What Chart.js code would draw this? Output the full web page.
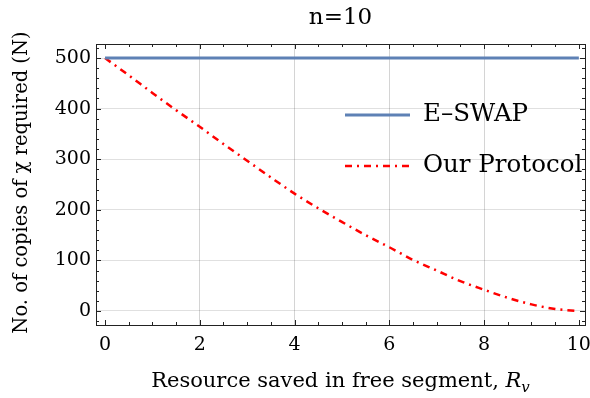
<!DOCTYPE html>
<html>
<head>
<meta charset="utf-8">
<script src="https://cdn.jsdelivr.net/npm/chart.js@4.4.1/dist/chart.umd.min.js"></script>
<style>
  html, body { margin: 0; padding: 0; background: #fff; }
  #wrap { width: 590px; height: 398px; }
</style>
</head>
<body>
<div id="wrap"><canvas id="chart" width="590" height="398"></canvas></div>
<script>
// values
const resourceSaved = [0, 0.5, 1, 1.5, 2, 2.5, 3, 3.5, 4, 4.5, 5, 5.5, 6, 6.5, 7, 7.5, 8, 8.5, 9, 9.5, 10];
const ourProtocol = [500, 466, 431, 397, 364, 330, 297, 264, 232, 203, 176, 150, 126, 101, 80, 59, 42, 26, 13, 4, 0];
const eswapX = [0, 10];
const eswapY = [500, 500];
const seriesNames = ['E\u2013SWAP', 'Our Protocol'];

const serif = "'DejaVu Serif', serif";
const blue = 'rgb(94,129,181)';
const red = 'rgb(255,0,0)';
const redDash = [7, 5, 2, 5];

function pts(xs, ys) {
    return xs.map((x, i) => ({ x: x, y: ys[i] }));
}

// frame, inward ticks, titles and the legend, Mathematica style
const framePlugin = {
    id: 'frame',
    afterDraw(chart) {
        const ctx = chart.ctx;
        const a = chart.chartArea;
        const sx = chart.scales.x, sy = chart.scales.y;
        ctx.save();
        ctx.strokeStyle = '#222';
        ctx.lineWidth = 1;
        ctx.strokeRect(a.left + 0.5, a.top + 0.5, a.right - a.left, a.bottom - a.top);

        ctx.beginPath();
        for (let v = 0; v <= 10.001; v += 0.5) {
            const px = Math.round(sx.getPixelForValue(v)) + 0.5;
            const len = (Math.abs(v % 2) < 1e-6) ? 5 : 3;
            ctx.moveTo(px, a.bottom); ctx.lineTo(px, a.bottom - len);
            ctx.moveTo(px, a.top); ctx.lineTo(px, a.top + len);
        }
        for (let v = -20; v <= 520; v += 20) {
            const py = Math.round(sy.getPixelForValue(v)) + 0.5;
            const len = (v % 100 === 0) ? 5 : 3;
            ctx.moveTo(a.left, py); ctx.lineTo(a.left + len, py);
            ctx.moveTo(a.right, py); ctx.lineTo(a.right - len, py);
        }
        ctx.stroke();

        const cx = (a.left + a.right) / 2;
        ctx.fillStyle = '#000';
        ctx.textBaseline = 'middle';

        // title
        ctx.font = '23px ' + serif;
        ctx.textAlign = 'center';
        ctx.fillText('n=10', cx, 18);

        // x title with italic R and subscript v
        const main = 'Resource saved in free segment, ';
        ctx.font = '21px ' + serif;
        const w1 = ctx.measureText(main).width;
        ctx.font = 'italic 21px ' + serif;
        const w2 = ctx.measureText('R').width;
        ctx.font = 'italic 15px ' + serif;
        const w3 = ctx.measureText('v').width;
        let x0 = cx - (w1 + w2 + w3) / 2;
        const ty = 382;
        ctx.textAlign = 'left';
        ctx.font = '21px ' + serif;
        ctx.fillText(main, x0, ty);
        ctx.font = 'italic 21px ' + serif;
        ctx.fillText('R', x0 + w1, ty);
        ctx.font = 'italic 15px ' + serif;
        ctx.fillText('v', x0 + w1 + w2, ty + 6);

        // y title
        ctx.save();
        ctx.translate(22, (a.top + a.bottom) / 2 - 2);
        ctx.rotate(-Math.PI / 2);
        ctx.textAlign = 'center';
        ctx.font = '19.5px ' + serif;
        ctx.fillText('No. of copies of \u03c7 required (N)', 0, 0);
        ctx.restore();

        // legend
        const lx0 = 345, lx1 = 410;
        const rows = [
            { y: 115, color: blue, width: 3, dash: [] },
            { y: 166, color: red, width: 2.5, dash: redDash }
        ];
        ctx.font = '24.5px ' + serif;
        rows.forEach((r, i) => {
            ctx.beginPath();
            ctx.setLineDash(r.dash);
            ctx.strokeStyle = r.color;
            ctx.lineWidth = r.width;
            ctx.moveTo(lx0, r.y); ctx.lineTo(lx1, r.y);
            ctx.stroke();
            ctx.setLineDash([]);
            ctx.fillStyle = '#000';
            ctx.textAlign = 'left';
            ctx.fillText(seriesNames[i], 423, r.y);
        });
        ctx.restore();
    }
};

const chart = new Chart(document.getElementById('chart').getContext('2d'), {
    type: 'line',
    data: {
        datasets: [{
            label: seriesNames[0],
            data: pts(eswapX, eswapY),
            borderColor: blue,
            borderWidth: 3,
            pointRadius: 0,
            fill: false
        }, {
            label: seriesNames[1],
            data: pts(resourceSaved, ourProtocol),
            borderColor: red,
            borderWidth: 2.5,
            borderDash: redDash,
            cubicInterpolationMode: 'monotone',
            pointRadius: 0,
            fill: false
        }]
    },
    options: {
        responsive: false,
        animation: false,
        layout: { padding: { top: 44, right: 5, left: 0, bottom: 0 } },
        plugins: {
            legend: { display: false },
            tooltip: { enabled: false }
        },
        scales: {
            x: {
                type: 'linear',
                min: -0.19,
                max: 10.13,
                afterFit: s => { s.height = 73; s.paddingLeft = 0; s.paddingRight = 0; },
                border: { display: false },
                grid: {
                    color: c => (c.tick && (c.tick.value === 0 || c.tick.value === 10)) ? 'rgba(0,0,0,0)' : 'rgba(0,0,0,0.17)',
                    drawTicks: false
                },
                ticks: {
                    stepSize: 2,
                    includeBounds: false,
                    padding: 9,
                    color: '#000',
                    font: { family: serif, size: 19 },
                    maxRotation: 0
                }
            },
            y: {
                min: -27.7,
                max: 527.7,
                afterFit: s => { s.width = 96; },
                border: { display: false },
                grid: { color: 'rgba(0,0,0,0.12)', drawTicks: false },
                ticks: {
                    stepSize: 100,
                    includeBounds: false,
                    padding: 5,
                    color: '#000',
                    font: { family: serif, size: 19 }
                }
            }
        }
    },
    plugins: [framePlugin]
});
</script>
</body>
</html>
